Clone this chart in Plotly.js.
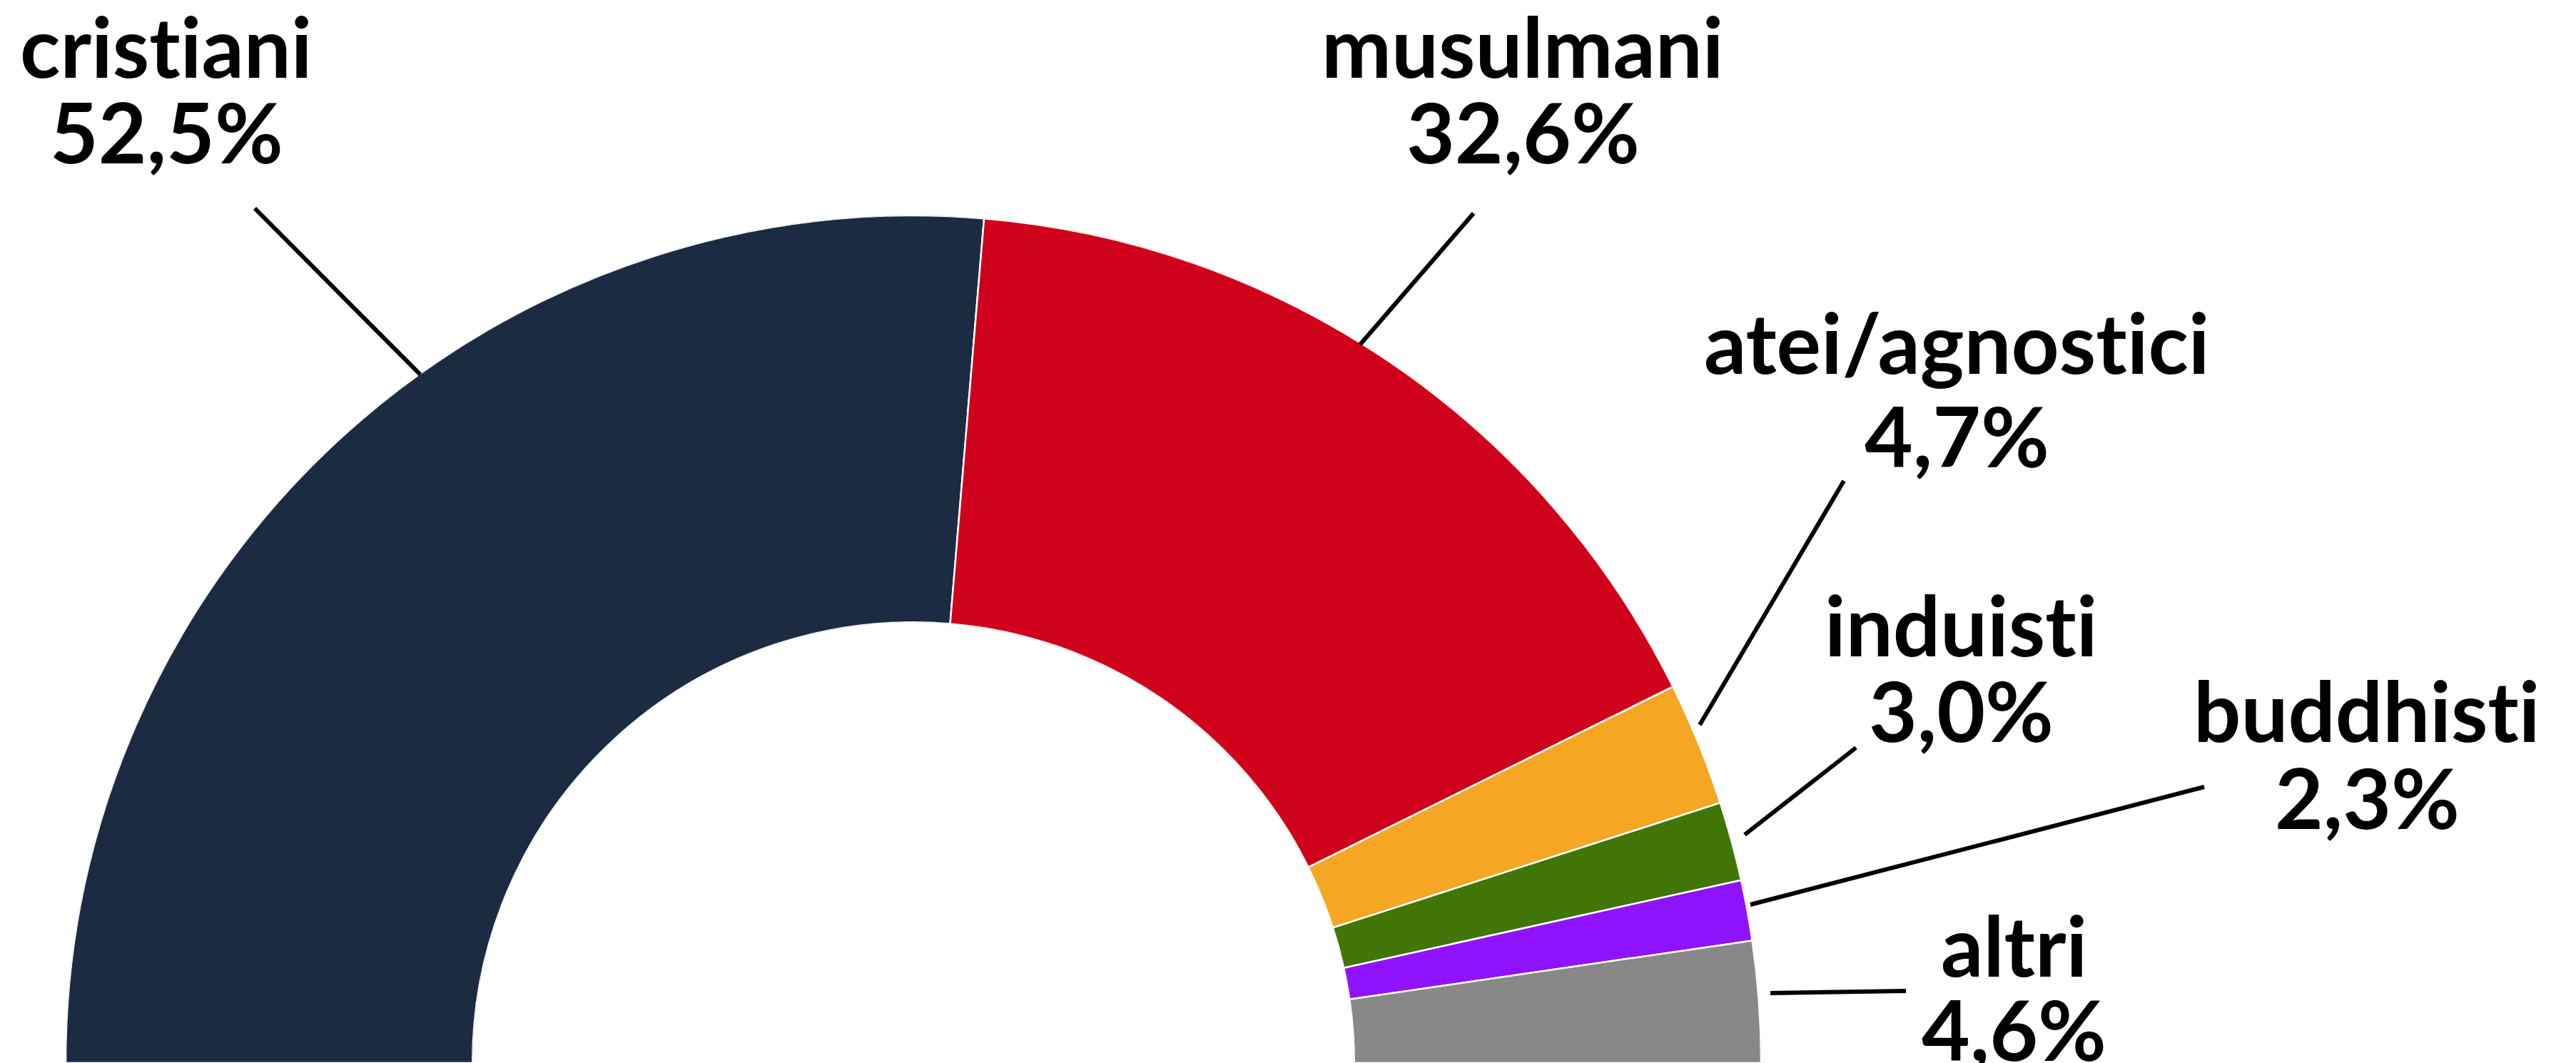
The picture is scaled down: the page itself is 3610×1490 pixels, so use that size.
<!DOCTYPE html>
<html>
<head>
<meta charset="utf-8">
<script src="https://cdn.plot.ly/plotly-3.0.1.min.js"></script>
<style>
  html, body { margin: 0; padding: 0; background: #ffffff; overflow: hidden; }
  #chart { width: 3610px; height: 1490px; }
  svg text { font-variant-ligatures: none; font-feature-settings: "liga" 0, "clig" 0; }
</style>
</head>
<body>
<div id="chart"></div>
<script>
// ---- data ----
const categories = ['cristiani', 'musulmani', 'atei/agnostici', 'induisti', 'buddhisti', 'altri'];
const shares = [52.5, 32.6, 4.7, 3.0, 2.3, 4.6];
const shareLabels = ['52,5%', '32,6%', '4,7%', '3,0%', '2,3%', '4,6%'];
const sliceColors = ['#1b2b42', '#d0021b', '#f5a623', '#417505', '#9013fe', '#888888'];

// ---- label layout (pixel positions of text and leader lines, not data) ----
// [textCenterX, nameBaselineY, valueBaselineY, lineOuterX, lineOuterY, lineInnerX, lineInnerY]
const labelLayout = [
  [233, 110, 230, 357, 292, 589, 525],
  [2134, 110, 230, 2065, 299, 1906, 483],
  [2742, 525, 656, 2584, 674, 2382, 1016],
  [2748, 921, 1041, 2601, 1048, 2445, 1170],
  [3317, 1041, 1163, 3089, 1103, 2453, 1268],
  [2822, 1370, 1488, 2671, 1389, 2481, 1392]
];

const W = 3610, H = 1490;
const FONT = 'Lato, "Open Sans", sans-serif';
const FS = 117;

const total = shares.reduce((a, b) => a + b, 0);
const spans = shares.map(v => v / total * 180);
const mids = [];
let acc = 0;
spans.forEach(s => { mids.push(acc + s / 2); acc += s; });

const trace = {
  type: 'barpolar',
  r: shares.map(() => 1),
  theta: mids,
  width: spans,
  text: categories,
  marker: { color: sliceColors, line: { color: '#ffffff', width: 2.5 } },
  hoverinfo: 'text',
  showlegend: false
};

const px = x => x / W;
const py = y => 1 - y / H;

const annotations = [];
const shapes = [];
labelLayout.forEach((L, i) => {
  const [cx, b1, b2, ox, oy, ix, iy] = L;
  const shift = 0.39 * FS; // baseline -> box middle
  annotations.push({
    xref: 'paper', yref: 'paper', x: px(cx), y: py(b1 - shift),
    xanchor: 'center', yanchor: 'middle', showarrow: false,
    text: categories[i], font: { family: FONT, size: FS, color: '#000000', weight: 'bold' }
  });
  annotations.push({
    xref: 'paper', yref: 'paper', x: px(cx), y: py(b2 - shift),
    xanchor: 'center', yanchor: 'middle', showarrow: false,
    text: shareLabels[i], font: { family: FONT, size: FS, color: '#000000', weight: 'bold' }
  });
  shapes.push({
    type: 'line', xref: 'paper', yref: 'paper',
    x0: px(ox), y0: py(oy), x1: px(ix), y1: py(iy),
    line: { color: '#000000', width: 6 }
  });
});

const R = 1188, CX = 1280;
const layout = {
  width: W, height: H,
  margin: { l: 0, r: 0, t: 0, b: 0, pad: 0 },
  paper_bgcolor: '#ffffff',
  plot_bgcolor: '#ffffff',
  showlegend: false,
  polar: {
    domain: { x: [(CX - R) / W, (CX + R) / W], y: [0, R / H] },
    sector: [0, 180],
    hole: 0.52,
    bgcolor: 'rgba(0,0,0,0)',
    radialaxis: { visible: false, range: [0, 1], showgrid: false, showline: false, ticks: '' },
    angularaxis: { visible: false, direction: 'clockwise', rotation: 180, showgrid: false, showline: false, ticks: '' },
    bargap: 0
  },
  annotations: annotations,
  shapes: shapes
};

Plotly.newPlot('chart', [trace], layout, { displayModeBar: false, staticPlot: true });
</script>
</body>
</html>
